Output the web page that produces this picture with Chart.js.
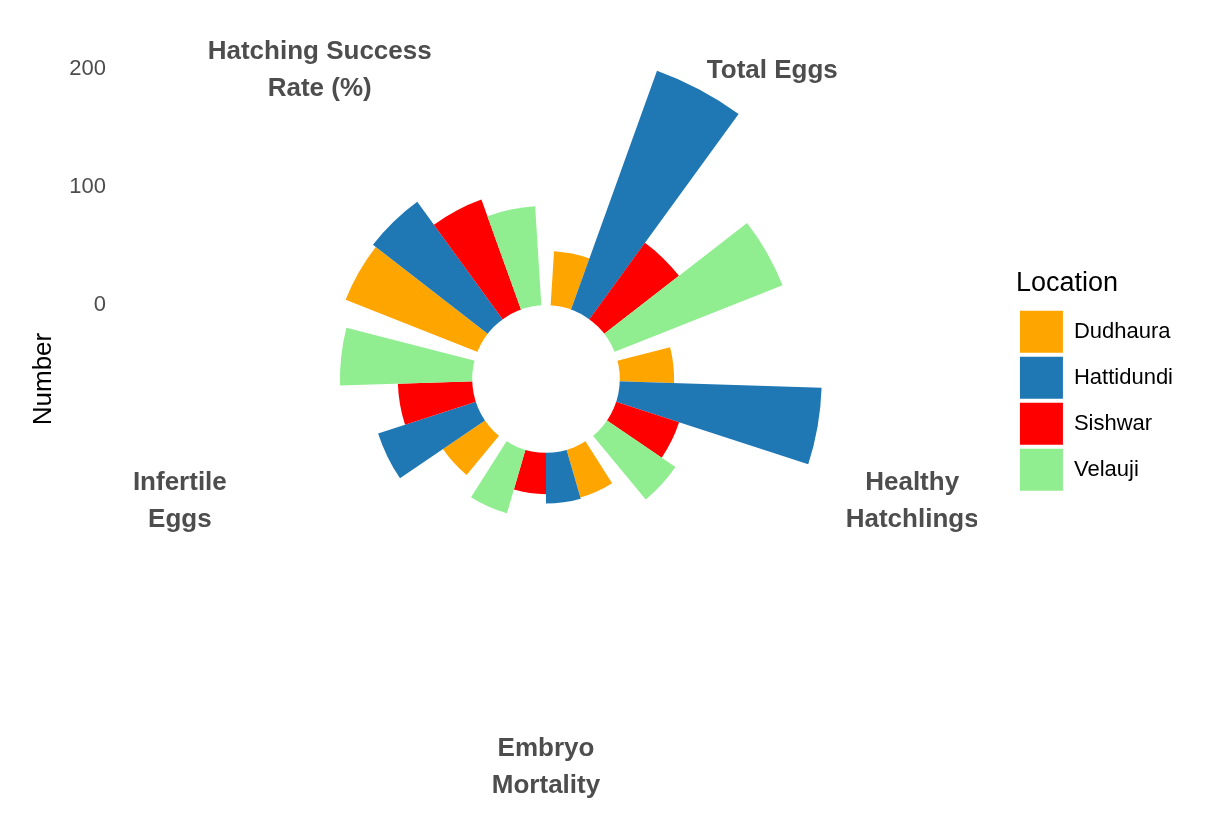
<!DOCTYPE html>
<html>
<head>
<meta charset="utf-8">
<title>Eggs and hatchlings by location</title>
<script src="https://cdn.jsdelivr.net/npm/chart.js@4.4.1/dist/chart.umd.min.js"></script>
<style>
  html, body { margin: 0; padding: 0; background: #fff; }
  canvas { display: block; }
</style>
</head>
<body>
<canvas id="chart" width="1217" height="819"></canvas>
<script>
"use strict";

// categories round the circle, clockwise from the top (wrapped like the original labels)
var categories = [
	['Total Eggs'],
	['Healthy', 'Hatchlings'],
	['Embryo', 'Mortality'],
	['Infertile', 'Eggs'],
	['Hatching Success', 'Rate (%)']
];
var locations = ['Dudhaura', 'Hattidundi', 'Sishwar', 'Velauji'];

// one value per category, same order as above
var dudhaura = [46, 46, 42, 43, 120];
var hattidundi = [215, 171, 43, 87, 123];
var sishwar = [80, 56, 35, 63, 99];
var velauji = [153, 70, 56, 112, 84];

var yTicks = [0, 100, 200];

window.locationColors = {
	Dudhaura: '#FFA500',
	Hattidundi: '#1F77B4',
	Sishwar: '#FF0000',
	Velauji: '#90EE90'
};

var family = '"Liberation Sans", Arial, sans-serif';
Chart.defaults.font.family = family;

// radial range: the hole in the middle is the part below zero
var rMin = -62.5;
var rMax = 250;

// ggplot style dodge: bars use 90% of each category slot, rest is the gap
var slot = 360 / categories.length;
var barAngle = slot * 0.9 / locations.length;
var gapAngle = slot * 0.1;

var series = [dudhaura, hattidundi, sishwar, velauji];
var values = [], colors = [], angles = [], labels = [];
categories.forEach(function (cat, k) {
	locations.forEach(function (loc, j) {
		values.push(series[j][k]);
		colors.push(window.locationColors[loc]);
		angles.push(barAngle);
		labels.push(cat.join(' ') + ' - ' + loc);
	});
	// empty slice between categories
	values.push(0);
	colors.push('rgba(0,0,0,0)');
	angles.push(gapAngle);
	labels.push('');
});

var holePlugin = {
	id: 'hole',
	afterDatasetsDraw: function (chart) {
		var r = chart.scales.r;
		var ctx = chart.ctx;
		ctx.save();
		ctx.fillStyle = '#fff';
		ctx.beginPath();
		ctx.arc(r.xCenter, r.yCenter, r.getDistanceFromCenterForValue(0), 0, Math.PI * 2);
		ctx.fill();
		ctx.restore();
	}
};

var categoryLabels = {
	id: 'categoryLabels',
	afterDraw: function (chart) {
		var r = chart.scales.r;
		var ctx = chart.ctx;
		var arcs = chart.getDatasetMeta(0).data;
		var area = chart.chartArea;
		var step = locations.length + 1;
		var dist = r.drawingArea + 16;

		ctx.save();
		// the panel clips the labels on the sides
		ctx.beginPath();
		ctx.rect(area.left, 0, area.right - area.left + 3, chart.height);
		ctx.clip();
		ctx.font = 'bold 26px ' + family;
		ctx.fillStyle = '#4D4D4D';
		ctx.textAlign = 'center';
		ctx.textBaseline = 'middle';
		categories.forEach(function (lines, k) {
			var first = arcs[k * step];
			var last = arcs[k * step + locations.length - 1];
			var a = (first.startAngle + last.endAngle) / 2;
			var x = r.xCenter + Math.cos(a) * dist;
			var y = r.yCenter + Math.sin(a) * dist + 3;
			lines.forEach(function (line, i) {
				ctx.fillText(line, x, y + (i - (lines.length - 1) / 2) * 37);
			});
		});
		ctx.restore();
	}
};

var ctx = document.getElementById('chart').getContext('2d');
var chart = new Chart(ctx, {
	type: 'polarArea',
	data: {
		labels: labels,
		datasets: [{
			data: values,
			backgroundColor: colors,
			angle: angles,
			borderWidth: 0
		}]
	},
	options: {
		responsive: false,
		animation: false,
		layout: {
			padding: {left: 24, right: 34, top: 10, bottom: 71}
		},
		scales: {
			r: {
				min: rMin,
				max: rMax,
				startAngle: gapAngle / 2,
				display: false
			},
			y: {
				type: 'linear',
				position: 'left',
				// same pixel scale as the radius, zero sits on the hole edge
				min: 2 * rMin - rMax,
				max: rMax,
				afterBuildTicks: function (axis) {
					axis.ticks = yTicks.map(function (v) { return {value: v}; });
				},
				afterFit: function (axis) {
					axis.width = 96;
					// ticks are well inside the range, no extra room needed
					axis.paddingTop = 0;
					axis.paddingBottom = 0;
				},
				grid: {display: false, drawTicks: false},
				border: {display: false},
				ticks: {
					color: '#4D4D4D',
					padding: 14,
					font: {size: 22}
				},
				title: {
					display: true,
					text: 'Number',
					color: '#000',
					font: {size: 26},
					padding: {top: 4, bottom: 0}
				}
			},
			// empty strip between the panel and the legend
			gutter: {
				type: 'linear',
				position: 'right',
				afterFit: function (axis) {
					axis.width = 42;
				},
				grid: {display: false, drawTicks: false},
				border: {display: false},
				ticks: {display: false}
			}
		},
		plugins: {
			legend: {
				position: 'right',
				align: 'center',
				onClick: function () {},
				title: {
					display: true,
					text: 'Location',
					position: 'start',
					color: '#000',
					font: {size: 27},
					padding: {top: 7, bottom: 4}
				},
				labels: {
					boxWidth: 43,
					boxHeight: 42,
					padding: 4,
					color: '#000',
					font: {size: 22},
					generateLabels: function () {
						return locations.map(function (loc) {
							return {
								text: loc,
								fillStyle: window.locationColors[loc],
								strokeStyle: window.locationColors[loc],
								lineWidth: 0,
								hidden: false,
								datasetIndex: 0
							};
						});
					}
				}
			},
			tooltip: {enabled: false}
		}
	},
	plugins: [holePlugin, categoryLabels]
});
</script>
</body>
</html>
